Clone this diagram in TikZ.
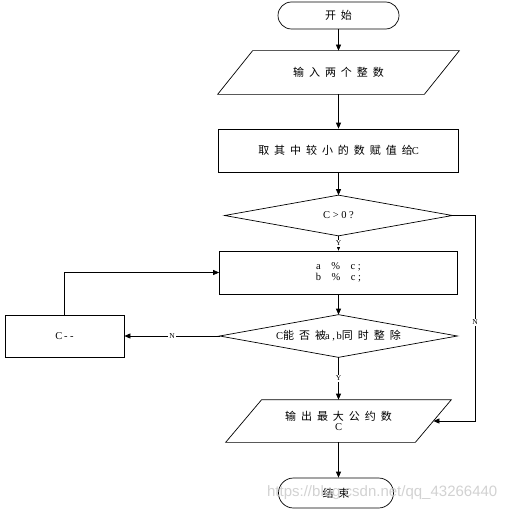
\documentclass[tikz,border=0pt]{standalone}
\usepackage{fontspec}
\setmainfont{Liberation Serif}[LetterSpace=25]
\newfontfamily\labfont{Liberation Serif}
\newfontfamily\cjkfont[LetterSpace=45]{Noto Sans CJK SC}
\newfontfamily\wmfont{Liberation Sans}
\newcommand\zh[1]{{\cjkfont\fontsize{11}{13}\selectfont #1}}
\usetikzlibrary{arrows.meta}
\begin{document}
\begin{tikzpicture}[x=1pt,y=-1pt,
  every node/.style={font=\fontsize{10.5}{12}\selectfont},
  line width=0.7pt,
  term/.style={draw, rounded corners=13.5pt, minimum width=121pt, minimum height=27pt, inner sep=0pt},
  procbox/.style={draw, minimum height=43pt, inner sep=0pt},
  slot/.style={minimum height=43pt, inner sep=0pt},
  arr/.style={-{Triangle[length=6pt,width=5pt]}},
  lab/.style={fill=white, inner sep=1pt, font=\labfont\fontsize{7.5}{8}\selectfont}]
\useasboundingbox[fill=white] (0,0) rectangle (509,511);

% nodes
\node[term] (start) at (338.5,15.5) {\zh{开始}};
\node[slot, minimum width=206pt] (in) at (338.5,72.5) {\zh{输入两个整数}};
\draw ([xshift=17.5pt]in.north west) -- ([xshift=17.5pt]in.north east)
  -- ([xshift=-17.5pt]in.south east) -- ([xshift=-17.5pt]in.south west) -- cycle;
\node[procbox, minimum width=240pt] (r1) at (338.5,150.5) {\zh{取其中较小的数赋值给}\kern-0.1em C};
\node[slot, minimum width=227pt, minimum height=40pt] (d1) at (338.5,215.5) {C>0?};
\draw (d1.north) -- (d1.east) -- (d1.south) -- (d1.west) -- cycle;
\node[procbox, minimum width=238pt, align=center] (r2) at (338.5,272.5) {a \ \% \ c;\\[-1pt] b \ \% \ c;};
\node[slot, minimum width=237pt, minimum height=42pt] (d2) at (338.5,336) {C\zh{能否被}\kern-0.1em a,\,b\zh{同时整除}};
\draw (d2.north) -- (d2.east) -- (d2.south) -- (d2.west) -- cycle;
\node[procbox, minimum width=119pt, minimum height=42pt] (cm) at (64.5,336) {C\,-{}-};
\node[slot, minimum width=189pt, minimum height=42pt, align=center] (out) at (338.5,421) {\zh{输出最大公约数}\\[-2pt] C};
\draw ([xshift=18pt]out.north west) -- ([xshift=18pt]out.north east)
  -- ([xshift=-18pt]out.south east) -- ([xshift=-18pt]out.south west) -- cycle;
\node[term, minimum width=115pt, minimum height=30pt, rounded corners=15pt] (end) at (336,493) {\zh{结束}};

\coordinate (k1) at (475,215.5);
\coordinate (k2) at (475,421);

% connectors
\draw[arr] (start.south) -- (in.north);
\draw[arr] (in.south) -- (r1.north);
\draw[arr] (r1.south) -- (d1.north);
\draw[arr] (d1.south) -- node[lab]{Y} (r2.north);
\draw[arr] (r2.south) -- (d2.north);
\draw[arr] (d2.west) -- node[lab]{N} (cm.east);
\draw[arr] (cm.north) |- (r2.west);
\draw[arr] (d2.south) -- node[lab]{Y} (out.north);
\draw[arr] (out.south) -- (end.north -| out.south);
\draw[arr] (d1.east) -- (k1) -- node[lab, pos=0.52]{N} (k2) -- (out.east);

% watermark
\node[anchor=east, text=black!22, text opacity=0.8, font=\wmfont\fontsize{15}{15}\selectfont] (wm) at (501,493) {https://blog.csdn.net/qq\_43266440};
\end{tikzpicture}
\end{document}
